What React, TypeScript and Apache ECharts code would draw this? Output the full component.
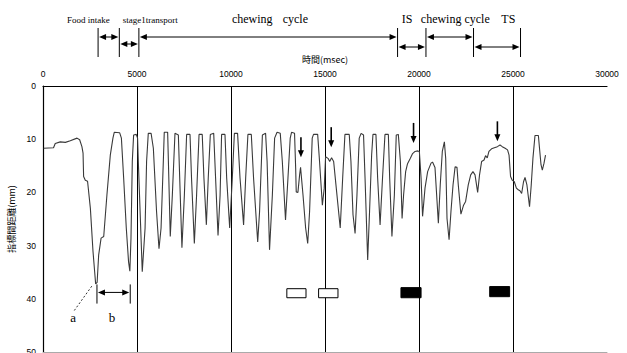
import React, { useEffect, useRef } from 'react';
import * as echarts from 'echarts';

// Signal: time (msec) and inter-marker distance (mm)
const timeMs = [
  30, 560, 650, 920, 1190, 1450, 1810, 1950, 2070, 2130, 2160, 2250, 2370, 2520, 2660, 2750, 2800, 2880,
  2960, 3090, 3230, 3400, 3580, 3720, 3790, 4080, 4170, 4290, 4430, 4550, 4620, 4680, 4750, 4820, 4960,
  5030, 5070, 5280, 5430, 5510, 5600, 5750, 5870, 6040, 6170, 6280, 6400, 6450, 6630, 6670, 6770, 6880,
  7020, 7200, 7300, 7390, 7520, 7640, 7820, 7900, 8050, 8170, 8300, 8470, 8560, 8690, 8790, 8900, 9080,
  9180, 9310, 9420, 9500, 9680, 9770, 9930, 10070, 10180, 10350, 10480, 10670, 10780, 10900, 11080,
  11200, 11420, 11520, 11670, 11840, 11920, 12050, 12200, 12320, 12450, 12620, 12730, 12900, 13030,
  13150, 13220, 13380, 13440, 13470, 13560, 13650, 13700, 13830, 13970, 14080, 14180, 14320, 14390,
  14610, 14710, 14860, 14960, 15030, 15160, 15250, 15350, 15460, 15580, 15810, 15940, 16060, 16290,
  16380, 16490, 16600, 16700, 16820, 16920, 17050, 17130, 17270, 17370, 17480, 17550, 17710, 17800,
  17930, 18060, 18190, 18370, 18440, 18560, 18690, 18790, 18900, 19010, 19100, 19180, 19290, 19390,
  19540, 19660, 19790, 19930, 20020, 20110, 20190, 20320, 20460, 20640, 20720, 20850, 20960, 21030,
  21130, 21240, 21350, 21420, 21490, 21600, 21700, 21810, 21920, 22020, 22090, 22230, 22370, 22480,
  22620, 22750, 22870, 22980, 23120, 23220, 23330, 23460, 23540, 23630, 23720, 23860, 24010, 24170,
  24310, 24430, 24580, 24710, 24790, 24870, 24960, 25070, 25180, 25280, 25370, 25460, 25560, 25640,
  25740, 25880, 25970, 26060, 26170, 26350, 26410, 26490, 26560, 26650, 26730,
];
const distMm = [
  11.7, 11.6, 10.8, 10.5, 10.6, 10.3, 9.8, 10.1, 11.4, 12.6, 17.0, 17.7, 17.9, 23.0, 31.1, 35.0, 37.2, 36.9,
  31.8, 28.6, 28.3, 20.5, 13.0, 9.8, 8.7, 8.8, 9.8, 17.3, 26.7, 33.0, 34.8, 28.6, 14.2, 9.2, 9.1,
  9.8, 14.2, 34.9, 26.7, 14.2, 8.9, 8.9, 11.7, 23.6, 30.6, 26.7, 14.2, 8.7, 8.7, 14.2, 28.3, 20.5,
  8.9, 9.2, 20.5, 30.4, 20.5, 9.1, 9.1, 17.3, 29.6, 20.5, 9.1, 9.1, 17.3, 26.1, 17.3, 9.1, 8.9,
  17.3, 28.1, 20.5, 9.1, 9.1, 17.3, 26.7, 17.3, 8.9, 8.9, 17.3, 26.1, 17.3, 9.1, 9.1,
  17.3, 29.3, 23.6, 9.2, 8.9, 14.2, 30.8, 20.5, 9.8, 8.7, 8.9, 14.2, 25.2, 17.3,
  9.8, 8.7, 8.9, 15.5, 19.9, 20.0, 16.7, 15.3, 20.5, 26.7, 29.6, 23.6, 9.8, 9.1,
  9.1, 14.2, 22.4, 19.2, 13.3, 13.6, 14.2, 13.5, 14.2, 18.5, 26.7, 17.3, 9.1, 9.1,
  14.2, 24.2, 27.7, 20.5, 9.8, 8.9, 9.2, 17.3, 32.7, 23.6, 13.0, 9.1, 9.1, 17.3,
  26.1, 17.3, 9.1, 9.1, 17.3, 28.3, 20.5, 9.2, 9.1, 14.2, 24.9, 20.5, 16.1, 14.6,
  13.6, 12.7, 12.3, 12.2, 12.3, 17.3, 24.5, 19.2, 16.1, 14.5, 14.3, 15.3, 21.7, 25.8,
  18.6, 12.3, 10.5, 13.6, 24.9, 28.9, 23.6, 18.6, 15.2, 15.3, 18.6, 24.1, 22.4, 21.7,
  18.6, 16.7, 16.1, 16.7, 20.0, 16.7, 14.2, 13.9, 13.1, 13.5, 12.3, 11.8, 11.6, 11.4,
  11.1, 11.4, 11.7, 12.0, 13.0, 17.0, 17.7, 18.0, 19.2, 19.5, 19.7, 20.2, 18.0, 17.2,
  18.6, 22.7, 18.6, 13.6, 9.3, 9.3, 11.7, 14.8, 15.8, 14.5, 13.0,
];

const xTicks = [0, 5000, 10000, 15000, 20000, 25000, 30000];
const yTicks = [0, 10, 20, 30, 40, 50];

// Phases above the chart (msec)
const phaseStart = [2930, 4060, 5100, 18860, 20370, 22900];
const phaseEnd = [4060, 5100, 18860, 20370, 22900, 25400];
const phaseRow = [0, 1, 0, 2, 0, 2];
const phaseLabelText = ['Food intake', 'stage1transport', 'chewing', 'cycle', 'IS', 'chewing cycle', 'TS'];
const phaseLabelAt = [2410, 5710, 11130, 13420, 19360, 21930, 24750];
const phaseLabelBig = [false, false, true, true, true, true, true];

// Down arrows (msec, mm at tip)
const arrowT = [13720, 15330, 19710, 24170];
const arrowTipMm = [13.4, 11.5, 10.7, 10.4];

// Boxes (msec from, msec to, mm top, mm bottom, filled)
const boxFrom = [12970, 14660, 19040, 23760];
const boxTo = [13990, 15690, 20110, 24820];
const boxTop = [38.1, 38.1, 37.9, 37.7];
const boxBottom = [39.8, 39.8, 39.8, 39.6];
const boxFilled = [false, false, true, true];

// "b" interval and "a" pointer
const bFrom = 2870;
const bTo = 4640;
const bMm = 38.8;
const bTickTop = 37.3;
const bTickBottom = 40.9;
const aLineFrom: [number, number] = [1665, 42.2];
const aLineTo: [number, number] = [2620, 37.5];
const aLabel: [number, number] = [1600, 43.6];
const bLabel: [number, number] = [3670, 43.6];

const SERIF = '"Liberation Serif", "DejaVu Serif", serif';
const SANS = '"Liberation Sans", Arial, sans-serif';
const CJK = '"Noto Sans CJK JP", "Noto Sans", sans-serif';

export default function App() {
  const ref = useRef<HTMLDivElement>(null);
  useEffect(() => {
    document.body.style.margin = '0';
    const chart = echarts.init(ref.current!, null, { renderer: 'svg' });
    chart.setOption({
      animation: false,
      backgroundColor: '#fff',
      grid: { left: 43, top: 86, width: 564, height: 266, containLabel: false, outerBoundsMode: 'none' },
      xAxis: [
        {
          type: 'value',
          position: 'top',
          min: xTicks[0],
          max: xTicks[xTicks.length - 1],
          interval: 5000,
          name: '時間(msec)',
          nameLocation: 'middle',
          nameGap: 21,
          nameTextStyle: { fontFamily: CJK, fontSize: 9, color: '#000' },
          axisLine: { show: true, lineStyle: { color: '#000', width: 1.2 } },
          axisTick: { show: false },
          axisLabel: { fontFamily: SANS, fontSize: 8.5, color: '#000', margin: 8, formatter: (v: number) => String(v) },
          splitLine: { show: true, showMinLine: false, showMaxLine: false, lineStyle: { color: '#000', width: 1 } },
        },
        {
          type: 'value',
          position: 'bottom',
          min: xTicks[0],
          max: xTicks[xTicks.length - 1],
          axisLine: { show: true, onZero: false, lineStyle: { color: '#aaa', width: 1 } },
          axisTick: { show: false },
          axisLabel: { show: false },
          splitLine: { show: false },
        },
      ],
      yAxis: {
        type: 'value',
        inverse: true,
        min: yTicks[0],
        max: yTicks[yTicks.length - 1],
        interval: 10,
        name: '指標間距離(mm)',
        nameLocation: 'middle',
        nameGap: 24,
        nameRotate: 90,
        nameTextStyle: { fontFamily: CJK, fontSize: 9, color: '#000' },
        axisLine: { show: true, lineStyle: { color: '#000', width: 1.2 } },
        axisTick: { show: false },
        axisLabel: { fontFamily: SANS, fontSize: 8.5, color: '#000', margin: 7, formatter: (v: number) => String(v) },
        splitLine: { show: false },
      },
      series: [
        {
          type: 'line',
          data: timeMs.map((t, i) => [t, distMm[i]]),
          symbol: 'none',
          lineStyle: { color: '#3a3a3a', width: 1.1 },
          z: 3,
        },
      ],
    });

    const X = (t: number) => chart.convertToPixel({ xAxisIndex: 0 }, t) as number;
    const Y = (v: number) => chart.convertToPixel({ yAxisIndex: 0 }, v) as number;
    const g: any[] = [];
    const line = (x1: number, y1: number, x2: number, y2: number, w = 1, dash?: number[]) =>
      g.push({ type: 'line', z: 100, shape: { x1, y1, x2, y2 }, style: { stroke: '#000', lineWidth: w, lineDash: dash } });
    const tri = (pts: number[][]) => g.push({ type: 'polygon', z: 100, shape: { points: pts }, style: { fill: '#000' } });
    const headL = (x: number, y: number) => tri([[x, y], [x + 7, y - 3], [x + 7, y + 3]]);
    const headR = (x: number, y: number) => tri([[x, y], [x - 7, y - 3], [x - 7, y + 3]]);
    const text = (x: number, y: number, s: string, size: number) =>
      g.push({
        type: 'text', z: 100, x, y,
        style: { text: s, fontFamily: SERIF, fontSize: size, fill: '#000', align: 'center', verticalAlign: 'middle' },
      });

    // phase ticks
    const bounds = Array.from(new Set([...phaseStart, ...phaseEnd]));
    bounds.forEach((t) => line(X(t), 28, X(t), 57, 1));
    const rowY = [37, 44, 47];
    phaseStart.forEach((s, i) => {
      const x1 = X(s) + 1;
      const x2 = X(phaseEnd[i]) - 1;
      const y = rowY[phaseRow[i]];
      line(x1 + 4, y, x2 - 4, y, 1);
      headL(x1, y);
      headR(x2, y);
    });
    phaseLabelText.forEach((s, i) => text(X(phaseLabelAt[i]), phaseLabelBig[i] ? 19 : 20, s, phaseLabelBig[i] ? 12 : 9));

    // down arrows
    arrowT.forEach((t, i) => {
      const x = X(t);
      const tip = Y(arrowTipMm[i]);
      line(x, tip - 20, x, tip - 5, 1.6);
      tri([[x, tip], [x - 3, tip - 7], [x + 3, tip - 7]]);
    });

    // boxes
    boxFrom.forEach((f, i) => {
      const x1 = X(f);
      const x2 = X(boxTo[i]);
      const y1 = Y(boxTop[i]);
      const y2 = Y(boxBottom[i]);
      g.push({
        type: 'rect', z: 100,
        shape: { x: x1, y: y1, width: x2 - x1, height: y2 - y1 },
        style: { fill: boxFilled[i] ? '#000' : '#fff', stroke: '#000', lineWidth: 1 },
      });
    });

    // b interval
    const bx1 = X(bFrom);
    const bx2 = X(bTo);
    const by = Y(bMm);
    line(bx1, Y(bTickTop), bx1, Y(bTickBottom), 1);
    line(bx2, Y(bTickTop), bx2, Y(bTickBottom), 1);
    line(bx1 + 5, by, bx2 - 5, by, 1);
    headL(bx1 + 1, by);
    headR(bx2 - 1, by);
    // a pointer
    line(X(aLineFrom[0]), Y(aLineFrom[1]), X(aLineTo[0]), Y(aLineTo[1]), 0.8, [2, 2]);
    text(X(aLabel[0]), Y(aLabel[1]), 'a', 13);
    text(X(bLabel[0]), Y(bLabel[1]), 'b', 13);

    chart.setOption({ graphic: g });
    return () => chart.dispose();
  }, []);
  return <div ref={ref} style={{ width: 627, height: 353 }} />;
}
